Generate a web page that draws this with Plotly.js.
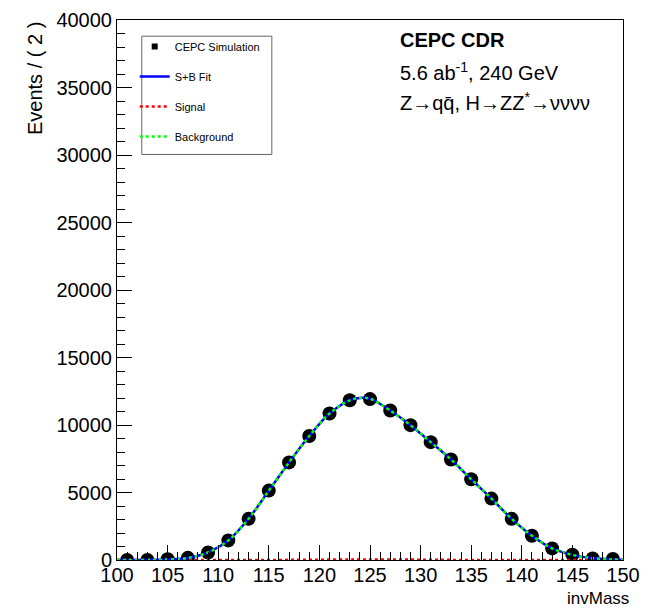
<!DOCTYPE html>
<html><head><meta charset="utf-8">
<script src="https://cdn.plot.ly/plotly-3.0.1.min.js"></script>
<style>body{margin:0;padding:0;background:#fff}#chart{width:648px;height:608px}</style>
</head><body><div id="chart"></div>
<script>
// Data points (bin centres, 2 GeV bins)
const massBins = [101,103,105,107,109,111,113,115,117,119,121,123,125,127,129,131,133,135,137,139,141,143,145,147,149];
const events   = [0,0,60,160,560,1450,3050,5140,7230,9180,10850,11830,11920,11070,9990,8730,7450,5980,4550,3050,1800,860,390,120,70];
// Fit curves
const fitMass  = [100,101,103,105,107,109,111,113,115,117,119,121,123,124,125,127,129,131,133,135,137,139,141,143,145,147,149,150];
const sbFit    = [0,5,10,40,150,560,1450,3050,5140,7230,9180,10850,11830,12000,11950,11070,9990,8730,7450,5980,4550,3050,1800,860,380,140,40,20];
const bkgFit   = [0,5,10,40,150,560,1450,3050,5140,7230,9180,10850,11830,12000,11950,11070,9990,8730,7450,5980,4550,3050,1800,860,380,140,40,20];
const sigFit   = [0,0,0,0,0,0,0,0,5,10,20,30,40,45,45,40,30,20,10,5,0,0,0,0,0,0,0,0];
const yTicks   = [0,5000,10000,15000,20000,25000,30000,35000,40000];
const xTicks   = [100,105,110,115,120,125,130,135,140,145,150];

const FONT = 'Liberation Sans, Arial, sans-serif';
const traces = [
  {x: massBins, y: events, type:'scatter', mode:'markers', name:'CEPC Simulation', showlegend:false,
   marker:{color:'#000', size:14, symbol:'circle'}},
  {x: fitMass, y: sbFit, type:'scatter', mode:'lines', name:'S+B Fit', legendgroup:'b', legendrank:2,
   line:{color:'#0000ff', width:2.5, shape:'spline'}},
  {x: fitMass, y: sigFit, type:'scatter', mode:'lines', name:'Signal', legendgroup:'c', legendrank:3,
   line:{color:'#ff0000', width:2.5, dash:'dot', shape:'spline'}},
  {x: fitMass, y: bkgFit, type:'scatter', mode:'lines', name:'Background', legendgroup:'d', legendrank:4,
   line:{color:'#00ff00', width:2.5, dash:'dot', shape:'spline'}},
  {x:[null], y:[null], type:'scatter', mode:'markers', name:'CEPC Simulation', legendgroup:'a', legendrank:1,
   marker:{color:'#000', size:6, symbol:'square'}}
];

const layout = {
  width:648, height:608,
  margin:{l:117, r:25, t:20, b:48},
  paper_bgcolor:'#fff', plot_bgcolor:'#fff',
  font:{family:FONT, color:'#000'},
  showlegend:true,
  legend:{x:0.035, y:0.978, xanchor:'left', yanchor:'top', bgcolor:'rgba(0,0,0,0)', borderwidth:0,
          font:{size:11, family:FONT}, tracegroupgap:11, itemwidth:30},
  xaxis:{range:[100,150], tickvals:xTicks, ticktext:xTicks.map(String), ticks:'inside', ticklen:15, tickcolor:'#000',
         tickfont:{size:20, family:FONT}, ticklabelstandoff:-3, showgrid:false, zeroline:false, showline:true, linecolor:'#000', mirror:true,
         minor:{dtick:1, ticks:'inside', ticklen:8, tickcolor:'#000', showgrid:false}},
  yaxis:{range:[0,40000], tickvals:yTicks, ticktext:yTicks.map(String), ticks:'inside', ticklen:15, tickcolor:'#000',
         tickfont:{size:20, family:FONT}, showgrid:false, zeroline:false, showline:true, linecolor:'#000', mirror:true,
         minor:{dtick:1000, ticks:'inside', ticklen:8, tickcolor:'#000', showgrid:false}},
  shapes:[{type:'rect', xref:'paper', yref:'paper', x0:0.049, x1:0.306, y0:0.751, y1:0.970, line:{color:'#666', width:1}}],
  annotations:[
    {xref:'paper', yref:'paper', x:0.555, y:0.987, xanchor:'left', yanchor:'top', showarrow:false,
     text:'<b>CEPC CDR</b>', font:{size:20, family:FONT}},
    {xref:'paper', yref:'paper', x:0.555, y:0.931, xanchor:'left', yanchor:'top', showarrow:false,
     text:'5.6 ab<sup>-1</sup>, 240 GeV', font:{size:20, family:FONT}},
    {xref:'paper', yref:'paper', x:0.555, y:0.876, xanchor:'left', yanchor:'top', showarrow:false,
     text:'Z\u2192qq\u0304, H\u2192ZZ<sup>*</sup>\u2192\u03bd\u03bd\u03bd\u03bd', font:{size:20, family:FONT}},
    {xref:'paper', yref:'paper', x:-0.163, y:1.0, xanchor:'center', yanchor:'top', showarrow:false, textangle:-90,
     text:'Events / ( 2 )', font:{size:20, family:FONT}},
    {xref:'paper', yref:'paper', x:1.015, y:-0.05, xanchor:'right', yanchor:'top', showarrow:false,
     text:'invMass', font:{size:17, family:FONT}}
  ]
};
Plotly.newPlot('chart', traces, layout, {displayModeBar:false, staticPlot:true});
</script></body></html>
